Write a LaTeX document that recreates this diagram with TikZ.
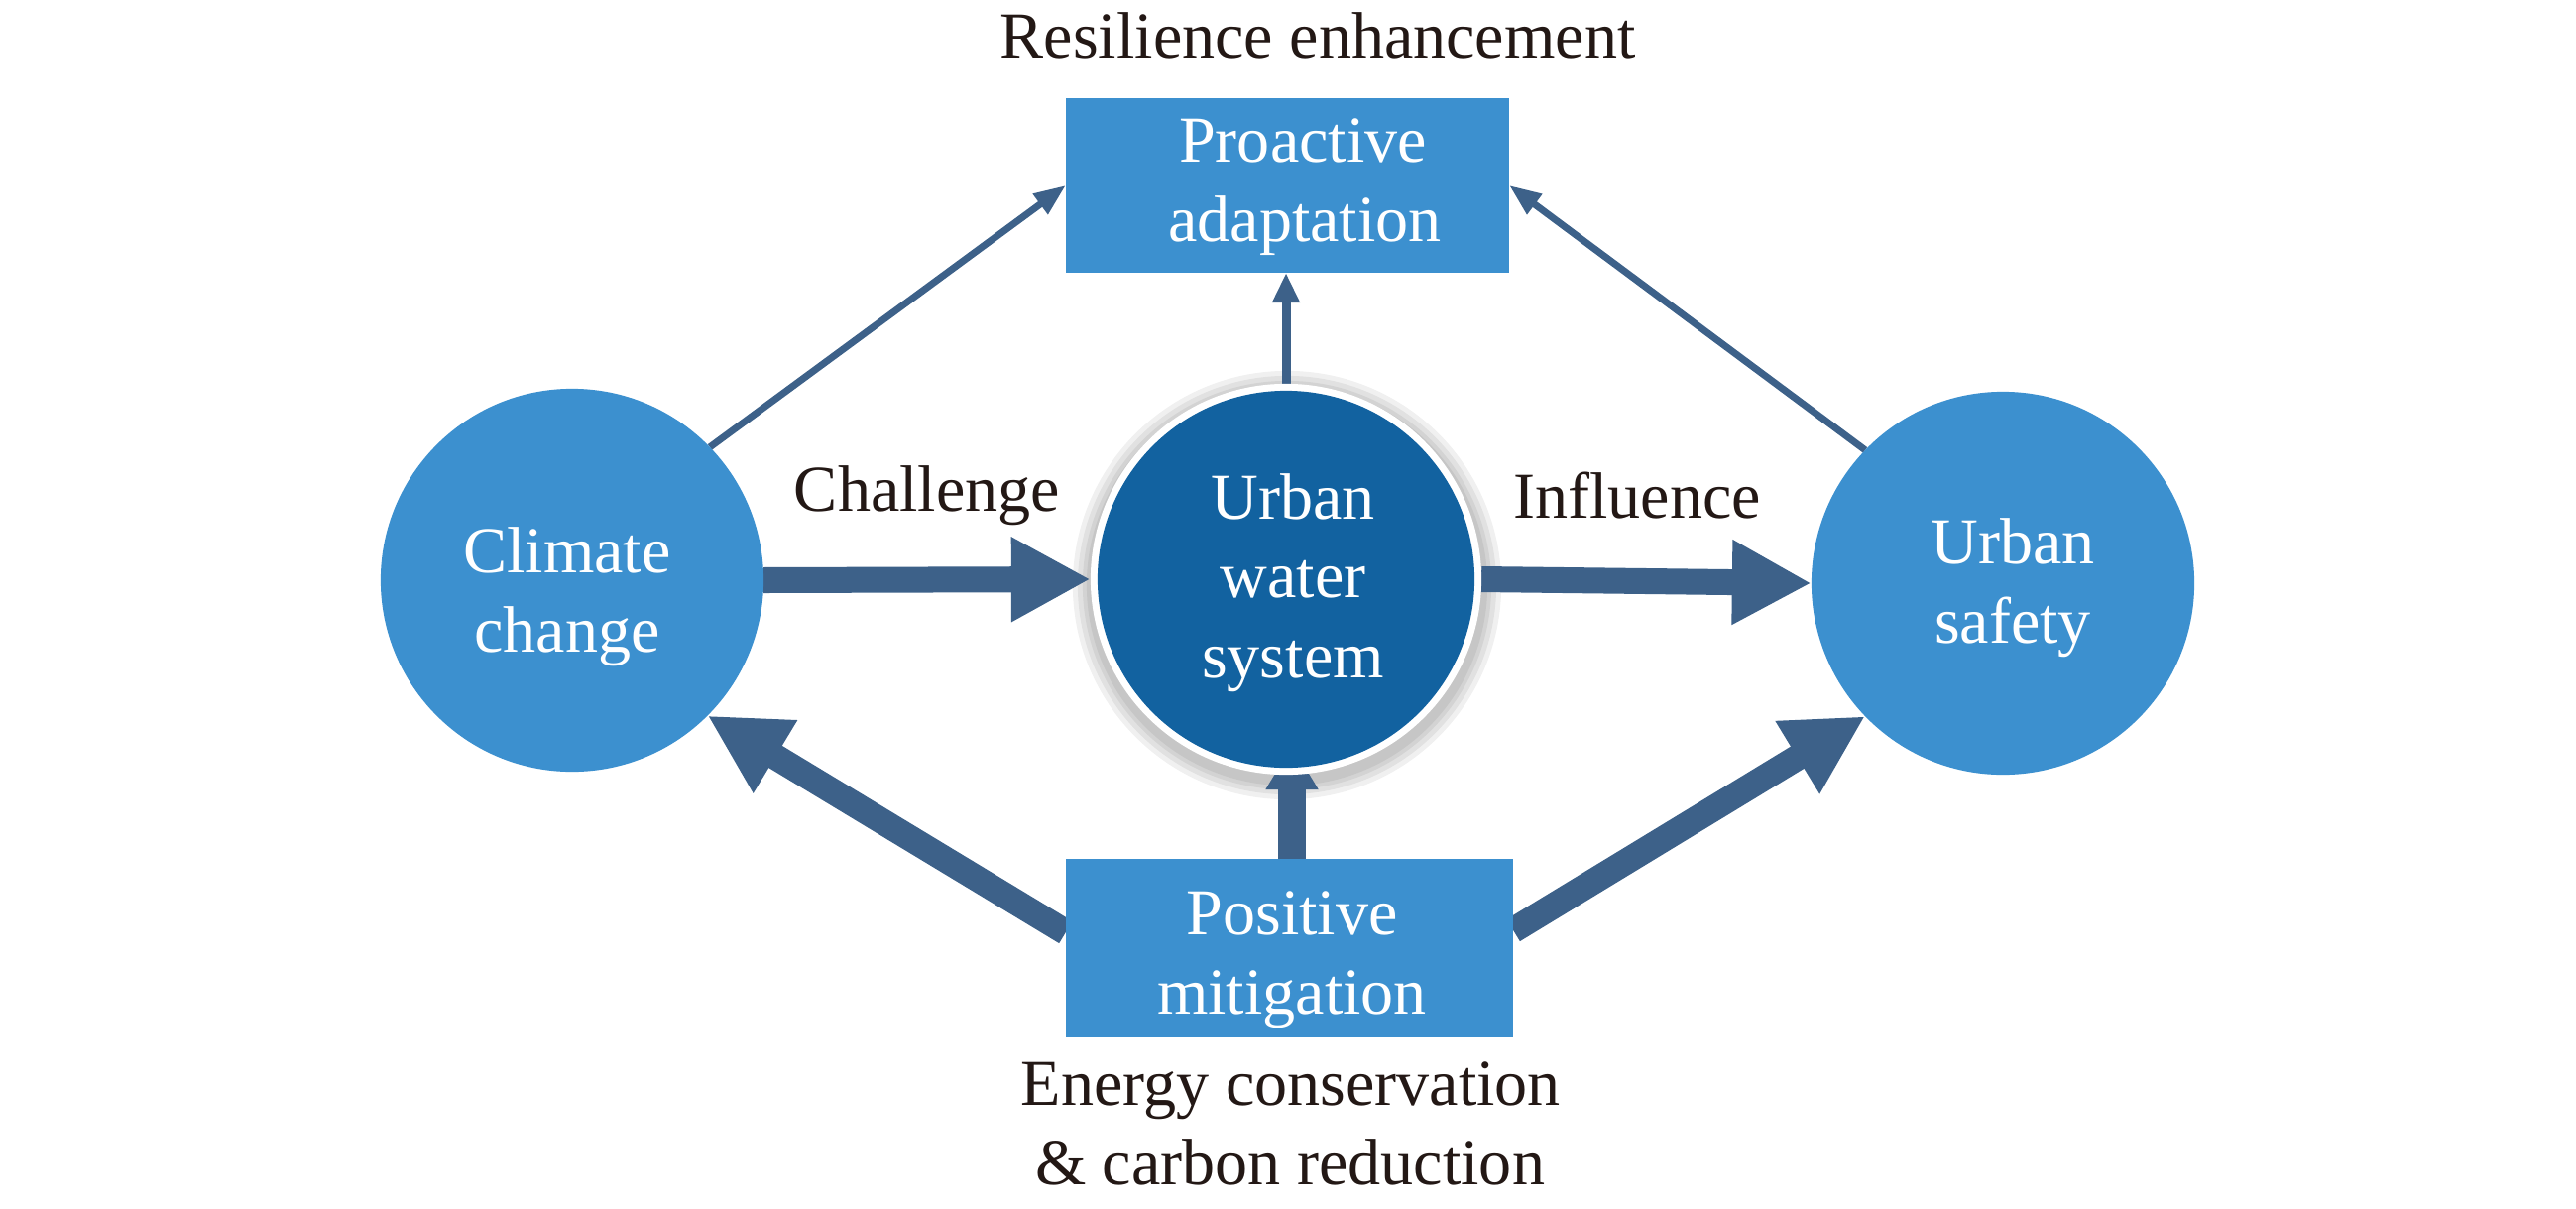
\documentclass[tikz,border=0pt]{standalone}
\usepackage{fontspec}
\setmainfont{Liberation Serif}
\usetikzlibrary{arrows.meta,backgrounds,calc}
\definecolor{lblue}{RGB}{60,144,207}
\definecolor{dblue}{RGB}{18,98,160}
\definecolor{acol}{RGB}{61,97,137}
\definecolor{tcol}{RGB}{35,24,21}
\begin{document}
\begin{tikzpicture}[x=0.01cm,y=-0.01cm,
  lab/.style={font=\fontsize{18.8pt}{22.8pt}\selectfont, inner sep=0, anchor=base},
  blk/.style={lab, text=tcol},
  wht/.style={lab, text=white},
  circ/.style={circle, fill=lblue, minimum size=3.86cm, inner sep=0, outer sep=0},
  box/.style={rectangle, fill=lblue, inner sep=0, outer sep=0},
  bigarrow/.style={draw=acol, line width=0.26cm, -{Triangle[length=0.8cm,width=0.8cm]}},
  vertarrow/.style={draw=acol, line width=0.28cm, -{Triangle[length=0.45cm,width=0.5cm]}},
  midarrow/.style={draw=acol, line width=0.09cm, -{Triangle[length=0.3cm,width=0.26cm]}},
  thinarrow/.style={draw=acol, line width=0.07cm, -{Triangle[length=0.32cm,width=0.24cm]}}]
\path[use as bounding box] (0,0) rectangle (2598,1218);
% shapes
\node[circ] (cc) at (577,585) {};
\node[circ, minimum size=3.94cm, fill=white] (uws) at (1297,584) {};
\node[circle, fill=dblue, minimum size=3.80cm, inner sep=0, outer sep=0] (uwsin) at (1297,584) {};
\node[circ] (us) at (2020,588) {};
\node[box, minimum width=4.47cm, minimum height=1.76cm] (pa) at (1298.5,187) {};
\node[box, minimum width=4.51cm, minimum height=1.80cm] (pm) at (1300.5,956) {};
% shadow and connectors behind
\begin{pgfonlayer}{background}
  \fill[white] (0,0) rectangle (2598,1218);
  \foreach \r in {2.16,2.11,2.06,2.02}
    \fill[black, opacity=0.06] ($(uws.center)+(1,6)$) circle (\r cm);
  \draw[bigarrow] (cc.east) -- (uws.west);
  \draw[bigarrow] (uws.east) -- (us.west);
  \draw[bigarrow] ([yshift=0.16cm]pm.west) -- (cc.-45);
  \draw[bigarrow] ([yshift=0.18cm]pm.east) -- (us.-136);
  \draw[vertarrow] ([xshift=0.06cm]uws.south |- pm.north) -- ([xshift=0.06cm,yshift=0.30cm]uws.south);
  \draw[thinarrow] (cc.44) -- (pa.west);
  \draw[thinarrow] (us.136) -- (pa.east);
  \draw[midarrow] (uws.north) -- (uws.north |- pa.south);
\end{pgfonlayer}
% texts
\node[blk] (t1) at (1329,58) {Resilience enhancement};
\node[wht] (pa1) at (1314,163) {Proactive};
\node[wht] (pa2) at (1316,243) {adaptation};
\node[blk] (ch) at (935,515) {Challenge};
\node[blk] (inf) at (1651,522) {Influence};
\node[wht] (cc1) at (572,577) {Climate};
\node[wht] (cc2) at (572,657) {change};
\node[wht] (u1) at (1304,523) {Urban};
\node[wht] (u2) at (1304,602) {water};
\node[wht] (u3) at (1304,683) {system};
\node[wht] (s1) at (2030,568) {Urban};
\node[wht] (s2) at (2030,648) {safety};
\node[wht] (pm1) at (1303,942) {Positive};
\node[wht] (pm2) at (1303,1022) {mitigation};
\node[blk] (e1) at (1302,1114) {Energy conservation};
\node[blk] (e2) at (1301,1194) {\& carbon reduction};
\end{tikzpicture}
\end{document}
